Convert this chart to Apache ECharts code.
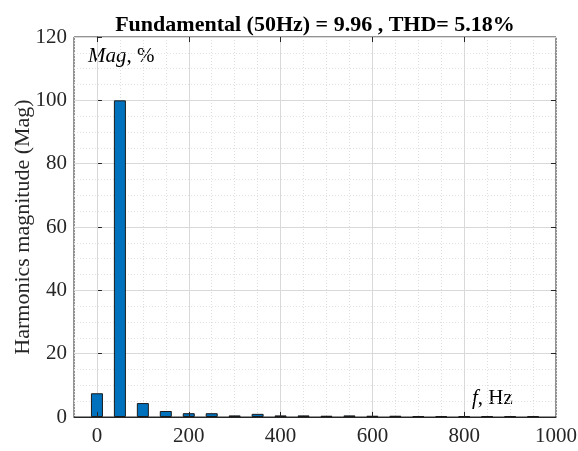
<!DOCTYPE html>
<html><head><meta charset="utf-8">
<script src="https://cdn.jsdelivr.net/npm/echarts@6/dist/echarts.min.js"></script>
<style>html,body{margin:0;padding:0;background:#fff}#c{width:578px;height:451px}</style>
</head><body><div id="c"></div>
<script>
const frequencies = [0,50,100,150,200,250,300,350,400,450,500,550,600,650,700,750,800,850,900,950];
const magnitudes = [7.5,100,4.4,1.9,1.2,1.2,0.5,1.0,0.5,0.5,0.4,0.5,0.4,0.4,0.3,0.3,0.3,0.3,0.3,0.3];
const xTicks = [0,200,400,600,800,1000];
const yTicks = [0,20,40,60,80,100,120];
const titleText = 'Fundamental (50Hz) = 9.96 , THD= 5.18%';
const yName = 'Harmonics magnitude (Mag)';

const font = '"Liberation Serif","Times New Roman",serif';
const innerY = yTicks.filter(v=>v>0 && v<120);
const chart = echarts.init(document.getElementById('c'));
chart.setOption({
  animation:false,
  title:{text:titleText,left:310,textAlign:'center',top:9,textStyle:{fontFamily:font,fontWeight:'bold',fontSize:22,color:'#000'}},
  grid:{left:74,right:22,top:37,bottom:34,show:true,borderColor:'#262626',borderWidth:1,backgroundColor:'transparent',outerBoundsMode:'none',containLabel:false},
  xAxis:{type:'value',min:-50,max:1000,interval:50,
    axisLine:{show:true,lineStyle:{color:'#262626'}},
    axisTick:{show:false},
    axisLabel:{fontFamily:font,fontSize:21,color:'#262626',margin:9,
      formatter:v=> (xTicks.indexOf(v)>=0 ? String(v) : '')},
    splitLine:{show:true,lineStyle:{color:'#dedede',type:[1,2],width:1}}
  },
  yAxis:{type:'value',min:0,max:120,interval:20,
    name:yName,nameLocation:'middle',nameGap:40,nameMoveOverlap:false,nameTextStyle:{fontFamily:font,fontSize:22,color:'#262626'},
    axisLine:{show:true,lineStyle:{color:'#262626'}},
    axisTick:{show:true,inside:true,length:5,lineStyle:{color:'#262626'}},
    axisLabel:{fontFamily:font,fontSize:21,color:'#262626',margin:7},
    splitLine:{show:true,lineStyle:{color:'#d9d9d9',width:1}},
    minorTick:{show:false,splitNumber:4},
    minorSplitLine:{show:true,lineStyle:{color:'#e3e3e3',type:[1,2],width:1}}
  },
  series:[{
    type:'line',data:[],z:1,
    markLine:{silent:true,symbol:'none',label:{show:false},z:1,
      lineStyle:{color:'#d9d9d9',type:'solid',width:1},
      data:xTicks.filter(v=>v<1000).map(v=>({xAxis:v}))}
  },{
    type:'bar',
    data:frequencies.map((f,i)=>[f,magnitudes[i]]),
    barWidth:12,
    itemStyle:{color:'#0072BD',borderColor:'#1a1a1a',borderWidth:1},
    z:3
  },{
    type:'line',data:[],z:5,
    markLine:{silent:true,symbol:'none',label:{show:false},z:5,
      lineStyle:{color:'#262626',type:'solid',width:1},
      data:[].concat(
        xTicks.filter(v=>v<1000).map(v=>[{coord:[v,0]},{coord:[v,1.6]}]),
        xTicks.filter(v=>v<1000).map(v=>[{coord:[v,120]},{coord:[v,118.4]}]),
        innerY.map(v=>[{coord:[1000,v]},{coord:[989,v]}])
      )}
  }],
  graphic:[
    {type:'text',left:88,top:46,style:{rich:{i:{fontFamily:font,fontStyle:'italic',fontSize:21,fill:'#000'},n:{fontFamily:font,fontSize:21,fill:'#000'}},text:'{i|Mag}{n|, %}'}},
    {type:'text',left:472,top:388,style:{rich:{i:{fontFamily:font,fontStyle:'italic',fontSize:21,fill:'#000'},n:{fontFamily:font,fontSize:21,fill:'#000'}},text:'{i|f}{n|, Hz}'}}
  ]
});
</script></body></html>
